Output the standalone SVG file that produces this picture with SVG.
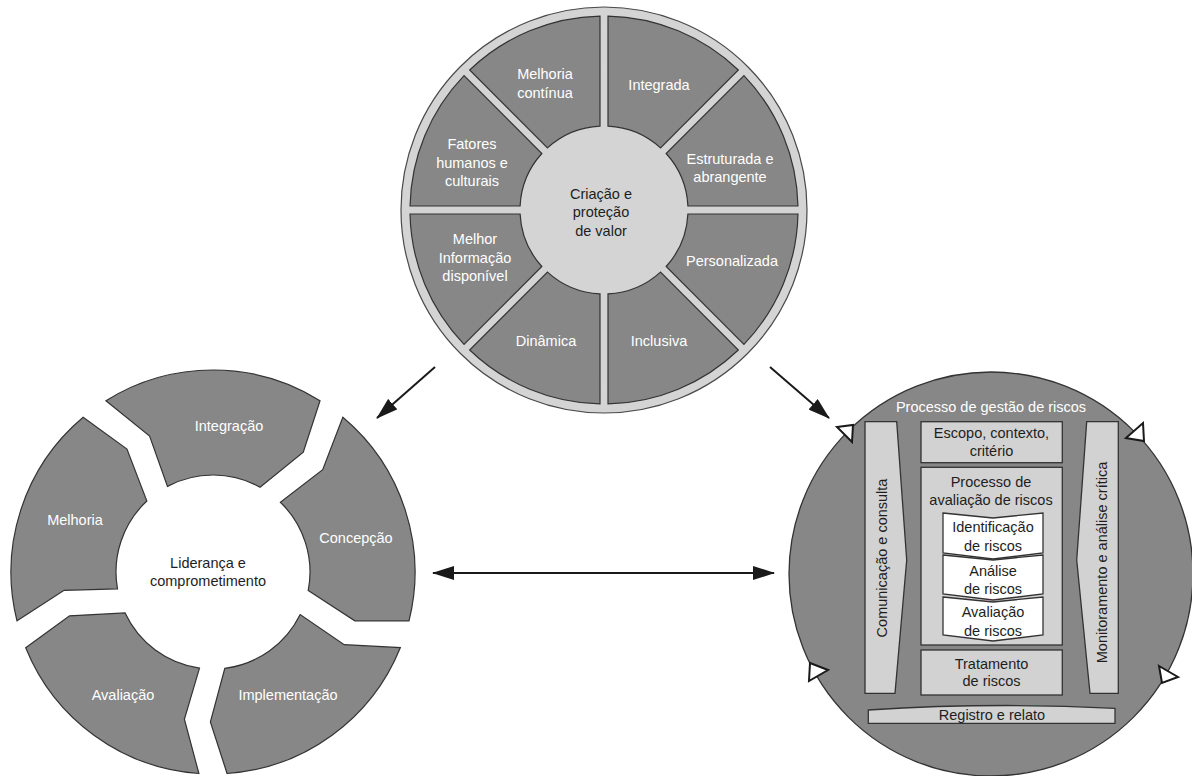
<svg xmlns="http://www.w3.org/2000/svg" width="1192" height="776" viewBox="0 0 1192 776">
<defs>
<style>
text{font-family:"Liberation Sans",Arial,sans-serif;font-size:14.5px;text-anchor:middle}
.w{fill:#ffffff}
.d{fill:#1e1e1e}
.seg{fill:#878787;stroke:#333333;stroke-width:1.2}
.ring{fill:#d4d4d4;stroke:#4a4a4a;stroke-width:1.2}
.box{fill:#d2d2d2;stroke:#333333;stroke-width:1.3}
.chev{fill:#ffffff;stroke:#333333;stroke-width:1.3}
.tri{fill:#ffffff;stroke:#1a1a1a;stroke-width:2;stroke-linejoin:miter}
.arr{stroke:#1a1a1a;stroke-width:2;fill:none}
</style>
<marker id="ah" viewBox="0 0 22 14" refX="21" refY="7" markerWidth="22" markerHeight="14" markerUnits="userSpaceOnUse" orient="auto-start-reverse">
<path d="M0,0 L22,7 L0,14 Z" fill="#1a1a1a"/>
</marker>
</defs>
<rect width="1192" height="776" fill="#ffffff"/>

<g id="principios">
<circle class="ring" cx="604" cy="210" r="203"/>
<g id="p-integrada"><path class="seg" d="M608,16.04 A194,194 0 0 1 738.32,70.02 L660.50,147.84 A84,84 0 0 0 608,126.10 Z"/><text class="w" x="659" y="90">Integrada</text></g>
<g id="p-estruturada"><path class="seg" d="M743.98,75.68 A194,194 0 0 1 797.96,206 L687.905,206 A84,84 0 0 0 666.16,153.50 Z"/><text class="w" x="730" y="163.5">Estruturada e</text><text class="w" x="730" y="181.5">abrangente</text></g>
<g id="p-personalizada"><path class="seg" d="M797.96,214 A194,194 0 0 1 743.98,344.32 L666.16,266.50 A84,84 0 0 0 687.905,214 Z"/><text class="w" x="732" y="265.5">Personalizada</text></g>
<g id="p-inclusiva"><path class="seg" d="M738.32,349.98 A194,194 0 0 1 608,403.96 L608,293.905 A84,84 0 0 0 660.50,272.16 Z"/><text class="w" x="659" y="345.5">Inclusiva</text></g>
<g id="p-dinamica"><path class="seg" d="M600,403.96 A194,194 0 0 1 469.68,349.98 L547.50,272.16 A84,84 0 0 0 600,293.905 Z"/><text class="w" x="546" y="345.5">Dinâmica</text></g>
<g id="p-informacao"><path class="seg" d="M464.02,344.32 A194,194 0 0 1 410.04,214 L520.095,214 A84,84 0 0 0 541.84,266.50 Z"/><text class="w" x="475" y="244">Melhor</text><text class="w" x="475" y="262.5">Informação</text><text class="w" x="475" y="281">disponível</text></g>
<g id="p-fatores"><path class="seg" d="M410.04,206 A194,194 0 0 1 464.02,75.68 L541.84,153.50 A84,84 0 0 0 520.095,206 Z"/><text class="w" x="472" y="149">Fatores</text><text class="w" x="472" y="167.5">humanos e</text><text class="w" x="472" y="186">culturais</text></g>
<g id="p-melhoria"><path class="seg" d="M469.68,70.02 A194,194 0 0 1 600,16.04 L600,126.10 A84,84 0 0 0 547.50,147.84 Z"/><text class="w" x="545" y="79">Melhoria</text><text class="w" x="545" y="97.5">contínua</text></g>
<g id="p-centro"><text class="d" x="601" y="198.5">Criação e</text><text class="d" x="601" y="217">proteção</text><text class="d" x="601" y="235.5">de valor</text></g>
</g>

<g id="estrutura">
<g id="e-integracao"><path class="seg" d="M105.96,400.69 A202,202 0 0 1 320.04,400.69 L303.27,452.20 L260.03,487.16 A97,97 0 0 0 167.46,486.35 L149.61,436.05 Z"/><text class="w" x="229" y="431">Integração</text></g>
<g id="e-concepcao"><path class="seg" d="M342.84,417.26 A202,202 0 0 1 409.00,620.87 L354.83,620.84 L308.22,590.51 A97,97 0 0 0 280.38,502.22 L322.70,469.70 Z"/><text class="w" x="356" y="543">Concepção</text></g>
<g id="e-implementacao"><path class="seg" d="M400.29,647.67 A202,202 0 0 1 227.09,773.51 L210.38,721.98 L224.82,668.28 A97,97 0 0 0 300.18,614.52 L344.19,644.72 Z"/><text class="w" x="288" y="699.5">Implementação</text></g>
<g id="e-avaliacao"><path class="seg" d="M198.91,773.51 A202,202 0 0 1 25.71,647.67 L69.56,615.86 L125.09,612.99 A97,97 0 0 0 199.50,668.06 L184.38,719.24 Z"/><text class="w" x="123" y="699.5">Avaliação</text></g>
<g id="e-melhoria"><path class="seg" d="M17.00,620.87 A202,202 0 0 1 83.16,417.26 L126.96,449.13 L146.85,501.06 A97,97 0 0 0 117.47,588.84 L64.12,590.28 Z"/><text class="w" x="75" y="524.5">Melhoria</text></g>
<g id="e-lideranca"><text class="d" x="208" y="567.5">Liderança e</text><text class="d" x="208" y="586">comprometimento</text></g>
</g>

<g id="processo">
<circle cx="991" cy="574" r="202" fill="#878787" stroke="#333333" stroke-width="1.3"/>
<text class="w" x="991" y="412">Processo de gestão de riscos</text>
<g id="pr-comunicacao"><path class="box" d="M865,421.7 L896.7,421.7 L906.7,560 L895,693.3 L865,693.3 Z"/><text class="d" transform="translate(887,558) rotate(-90)">Comunicação e consulta</text></g>
<g id="pr-monitoramento"><path class="box" d="M1086.7,421.7 L1118.3,421.7 L1118.3,693.3 L1090,693.3 L1076.7,560 Z"/><text class="d" transform="translate(1107,562.5) rotate(-90)">Monitoramento e análise crítica</text></g>
<g id="pr-escopo"><rect class="box" x="921" y="421.7" width="141.3" height="41"/><text class="d" x="991.5" y="438">Escopo, contexto,</text><text class="d" x="991.5" y="456">critério</text></g>
<g id="pr-avaliacao"><rect class="box" x="921" y="467.3" width="141.3" height="177.7"/><text class="d" x="991" y="487">Processo de</text><text class="d" x="991" y="504.5">avaliação de riscos</text></g>
<g id="pr-identificacao"><path class="chev" d="M943,513 L993,518 L1043,513 L1043,553 L993,559 L943,553 Z"/><text class="d" x="993" y="532">Identificação</text><text class="d" x="993" y="551">de riscos</text></g>
<g id="pr-analise"><path class="chev" d="M943,555 L993,560 L1043,555 L1043,594 L993,600 L943,594 Z"/><text class="d" x="993" y="575.5">Análise</text><text class="d" x="993" y="593.5">de riscos</text></g>
<g id="pr-aval"><path class="chev" d="M943,597 L993,602 L1043,597 L1043,635 L993,641 L943,635 Z"/><text class="d" x="993" y="617">Avaliação</text><text class="d" x="993" y="635.5">de riscos</text></g>
<g id="pr-tratamento"><rect class="box" x="921" y="650" width="141.3" height="45"/><text class="d" x="991.5" y="668.5">Tratamento</text><text class="d" x="991.5" y="686">de riscos</text></g>
<g id="pr-registro"><path class="box" d="M868.3,710 Q992,702 1115,708.3 L1115,723.3 L868.3,723.3 Z"/><text class="d" x="992" y="719.5">Registro e relato</text></g>
<polygon class="tri" points="837,427 853,425 852,442"/>
<polygon class="tri" points="1126,438 1143,423 1144,441"/>
<polygon class="tri" points="810,663 828,670 809,681"/>
<polygon class="tri" points="1159,666 1178,677 1162,683"/>
</g>

<g id="connectors">
<line class="arr" x1="435" y1="367" x2="377" y2="418" marker-end="url(#ah)"/>
<line class="arr" x1="770" y1="367" x2="829" y2="418" marker-end="url(#ah)"/>
<line class="arr" x1="433" y1="573" x2="774" y2="573" marker-start="url(#ah)" marker-end="url(#ah)"/>
</g>
</svg>
